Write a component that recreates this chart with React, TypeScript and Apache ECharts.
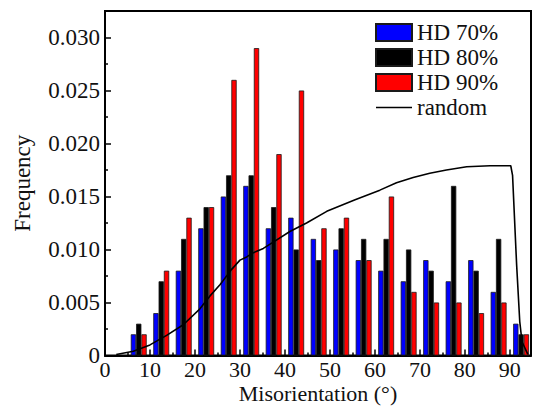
import React, { useEffect, useRef } from "react";
import * as echarts from "echarts";

const binCenters = [7.5, 12.5, 17.5, 22.5, 27.5, 32.5, 37.5, 42.5, 47.5, 52.5, 57.5, 62.5, 67.5, 72.5, 77.5, 82.5, 87.5, 92.5];
const hd70 = [0.002, 0.004, 0.008, 0.012, 0.015, 0.016, 0.012, 0.013, 0.011, 0.010, 0.009, 0.008, 0.007, 0.009, 0.007, 0.009, 0.006, 0.003];
const hd80 = [0.003, 0.007, 0.011, 0.014, 0.017, 0.017, 0.014, 0.010, 0.009, 0.012, 0.011, 0.011, 0.010, 0.008, 0.016, 0.008, 0.011, 0.002];
const hd90 = [0.002, 0.008, 0.013, 0.014, 0.026, 0.029, 0.019, 0.025, 0.012, 0.013, 0.009, 0.015, 0.006, 0.005, 0.005, 0.004, 0.005, 0.002];
const randomX = [2.5, 6.3, 10, 13.7, 17.4, 21.1, 23.3, 25.6, 28.1, 30, 31.5, 33, 35.2, 37.4, 41.1, 44.8, 49.3, 55.6, 61.1, 64.8, 68.5, 72.2, 75.9, 80.4, 85.6, 90.2, 90.6, 91.5, 92.2, 92.7, 94];
const randomY = [0.0001, 0.0004, 0.001, 0.0019, 0.0029, 0.0044, 0.0056, 0.0067, 0.0081, 0.009, 0.0093, 0.0097, 0.0101, 0.0107, 0.0117, 0.0125, 0.0136, 0.0147, 0.0156, 0.0163, 0.0168, 0.0172, 0.0175, 0.0178, 0.0179, 0.0179, 0.017, 0.0086, 0.0032, 0.0013, 0.0001];
const seriesNames = ["HD 70%", "HD 80%", "HD 90%", "random"];
const xTicks = [0, 10, 20, 30, 40, 50, 60, 70, 80, 90];
const yTicks = [0, 0.005, 0.01, 0.015, 0.02, 0.025, 0.03];

const FONT = "Liberation Serif";

export default function App() {
  const ref = useRef<HTMLDivElement>(null);
  useEffect(() => {
    if (!ref.current) return;
    const chart = echarts.init(ref.current, null, { renderer: "svg" });
    const barCommon = (name: string, vals: number[], color: string) => ({
      name,
      type: "bar",
      data: binCenters.map((x, i) => [x, vals[i]]),
      barWidth: 5.3,
      barGap: "0%",
      itemStyle: { color, borderColor: "#1a1a1a", borderWidth: 0.8 },
      emphasis: { disabled: true },
    });
    chart.setOption({
      animation: false,
      backgroundColor: "#ffffff",
      textStyle: { fontFamily: FONT },
      grid: {
        left: 105, top: 11, right: 2, bottom: 50.5,
        containLabel: false, outerBoundsMode: "none",
        show: true, borderColor: "#000", borderWidth: 2, backgroundColor: "transparent",
      },
      legend: {
        orient: "vertical",
        left: 370,
        top: 16,
        itemWidth: 36,
        itemHeight: 17,
        itemGap: 2,
        textStyle: { fontFamily: FONT, fontSize: 23, color: "#111" },
        data: [
          { name: seriesNames[0], icon: "rect" },
          { name: seriesNames[1], icon: "rect" },
          { name: seriesNames[2], icon: "rect" },
          { name: seriesNames[3], icon: "path://M0,0H36V1.6H0Z", itemStyle: { color: "#000", borderWidth: 0 } },
        ],
      },
      xAxis: {
        type: "value",
        min: 0,
        max: 94.7,
        interval: 10,
        name: "Misorientation (°)",
        nameLocation: "middle",
        nameGap: 29,
        nameMoveOverlap: false,
        nameTextStyle: { fontFamily: FONT, fontSize: 22, lineHeight: 18, color: "#111" },
        axisLine: { show: true, lineStyle: { color: "#000", width: 2 } },
        axisTick: { show: true, inside: true, length: 6, lineStyle: { color: "#000", width: 1.5 } },
        minorTick: { show: true, splitNumber: 2, length: 3, lineStyle: { color: "#000", width: 1.5 } },
        splitLine: { show: false },
        axisLabel: {
          fontFamily: FONT,
          fontSize: 22,
          lineHeight: 18,
          color: "#111",
          margin: 4.5,
          formatter: (v: number) => (xTicks.includes(Math.round(v * 1000) / 1000) ? String(v) : ""),
        },
      },
      yAxis: {
        type: "value",
        min: 0,
        max: 0.0325,
        interval: 0.005,
        name: "Frequency",
        nameLocation: "middle",
        nameGap: 71,
        nameMoveOverlap: false,
        nameTextStyle: { fontFamily: FONT, fontSize: 23, color: "#111" },
        axisLine: { show: true, lineStyle: { color: "#000", width: 2 } },
        axisTick: { show: true, inside: true, length: 6, lineStyle: { color: "#000", width: 1.5 } },
        minorTick: { show: true, splitNumber: 2, length: 3, lineStyle: { color: "#000", width: 1.5 } },
        splitLine: { show: false },
        axisLabel: {
          fontFamily: FONT,
          fontSize: 23,
          color: "#111",
          margin: 5,
          formatter: (v: number) => {
            const r = Math.round(v * 10000) / 10000;
            if (!yTicks.some((t) => Math.abs(t - r) < 1e-9)) return "";
            return r === 0 ? "0" : r.toFixed(3);
          },
        },
      },
      series: [
        barCommon(seriesNames[0], hd70, "#0000ff"),
        barCommon(seriesNames[1], hd80, "#000000"),
        barCommon(seriesNames[2], hd90, "#ff0000"),
        {
          name: seriesNames[3],
          type: "line",
          data: randomX.map((x, i) => [x, randomY[i]]),
          symbol: "none",
          showSymbol: false,
          smooth: false,
          lineStyle: { color: "#000", width: 1.6 },
          itemStyle: { color: "#000" },
          emphasis: { disabled: true },
          z: 5,
        },
      ],
    });
    return () => chart.dispose();
  }, []);
  return <div ref={ref} style={{ position: "fixed", left: 0, top: 0, width: 533, height: 406 }} />;
}
